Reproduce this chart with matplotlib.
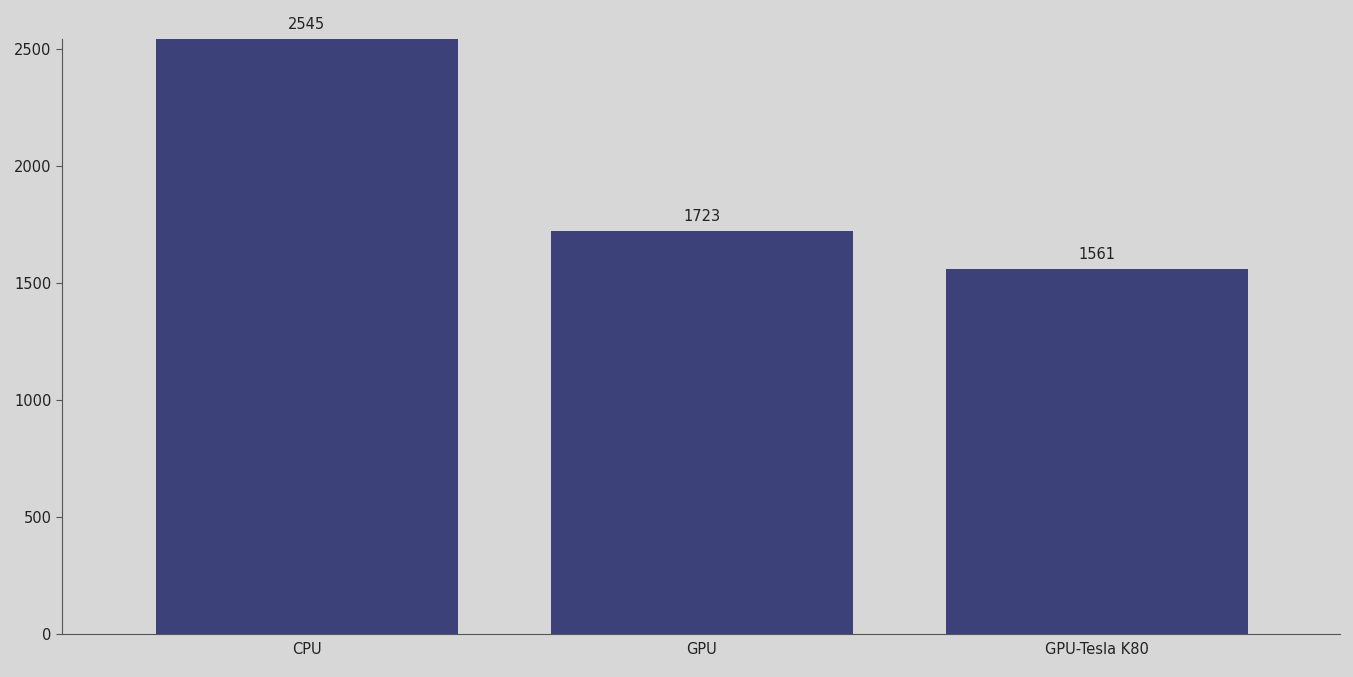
import matplotlib
matplotlib.use("Agg")
import matplotlib.pyplot as plt

categories = ["CPU", "GPU", "GPU-Tesla K80"]
values = [2545, 1723, 1561]
yticks = [0, 500, 1000, 1500, 2000, 2500]

BG = "#d7d7d7"
BAR = "#3c417a"
TEXT = "#222222"

fig = plt.figure(figsize=(13.53, 6.77), dpi=100, facecolor=BG)
ax = fig.add_axes([62 / 1353, 43 / 677, 1278 / 1353, 595.5 / 677])
ax.set_facecolor(BG)

x = list(range(len(categories)))
bars = ax.bar(x, values, width=0.765, color=BAR)
for b, v in zip(bars, values):
    ax.annotate(str(v), (b.get_x() + b.get_width() / 2, v),
                xytext=(0, 5), textcoords="offset points",
                ha="center", va="bottom", fontsize=10.5, color=TEXT)

ax.set_xlim(-0.62, 2.615)
ax.set_ylim(0, 2545)
ax.set_xticks(x, categories)
ax.set_yticks(yticks)
ax.tick_params(axis="x", length=0, pad=6, labelsize=10.5, colors=TEXT)
ax.tick_params(axis="y", length=4, labelsize=10.5, colors=TEXT, color="#555555")
for s in ("top", "right"):
    ax.spines[s].set_visible(False)
for s in ("left", "bottom"):
    ax.spines[s].set_color("#555555")

fig.savefig("out.png", dpi=100, facecolor=BG)
